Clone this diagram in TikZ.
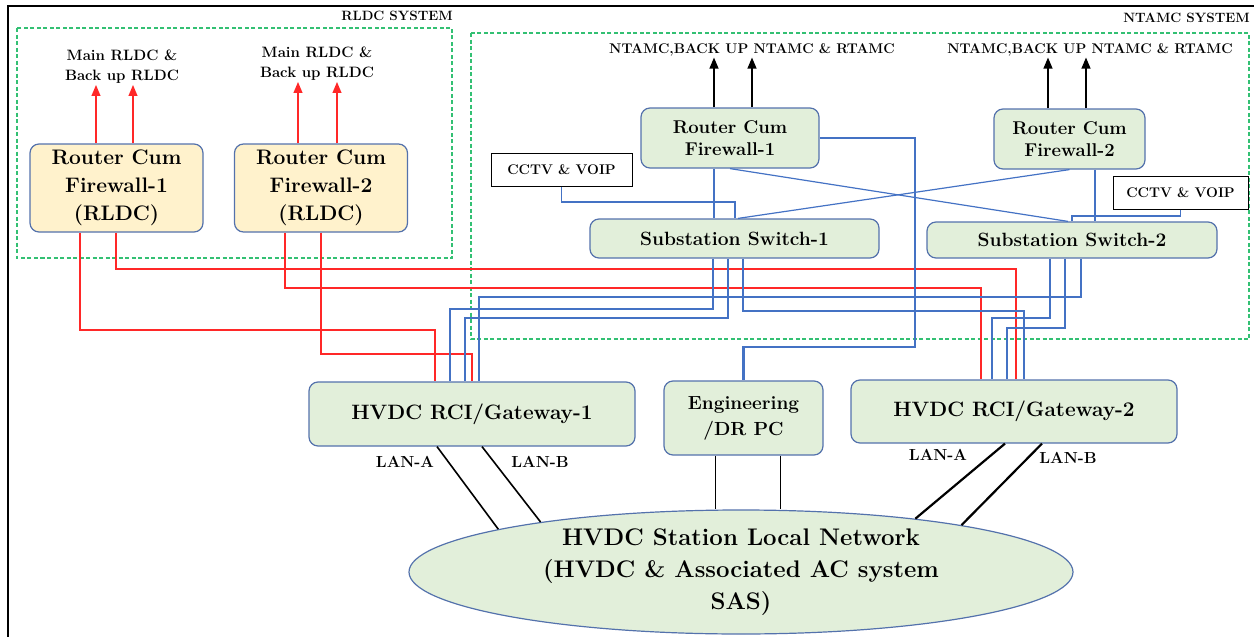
\documentclass[tikz,border=0pt]{standalone}
\usepackage{tikz}
\usetikzlibrary{arrows, positioning, shapes.geometric}

\definecolor{boxfill}{RGB}{226,239,218}
\definecolor{boxline}{RGB}{84,114,172}
\definecolor{rldcfill}{RGB}{255,242,204}
\definecolor{netblue}{RGB}{68,114,196}
\definecolor{netred}{RGB}{255,40,40}
\definecolor{sysgreen}{RGB}{0,176,80}

\begin{document}
\begin{tikzpicture}[x=1pt, y=-1pt, >=triangle 45, semithick]
    \tikzstyle{gbox}=[rectangle, rounded corners=9pt, draw=boxline, fill=boxfill, line width=1.2pt, align=center, inner sep=0pt, text=black]
    \tikzstyle{ybox}=[gbox, fill=rldcfill, minimum width=173pt, minimum height=88pt, font=\bfseries\fontsize{21}{28}\selectfont]
    \tikzstyle{wbox}=[rectangle, draw=black, fill=white, line width=1pt, minimum width=138pt, minimum height=33pt, inner sep=0pt, font=\bfseries\fontsize{14}{16}\selectfont]
    \tikzstyle{tlabel}=[align=center, inner sep=1pt, font=\bfseries\fontsize{15}{20}\selectfont]
    \tikzstyle{nlabel}=[inner sep=1pt, font=\bfseries\fontsize{14}{16}\selectfont]
    \tikzstyle{syslabel}=[inner sep=0pt, font=\bfseries\fontsize{13.5}{16}\selectfont]
    \tikzstyle{lanlabel}=[inner sep=0pt, font=\bfseries\fontsize{16}{18}\selectfont]
    \tikzstyle{sysline}=[draw=sysgreen!80, line width=1.3pt, dash pattern=on 4pt off 2.5pt]
    \tikzstyle{rline}=[draw=netred, line width=1.5pt]
    \tikzstyle{bline}=[draw=netblue, line width=1.2pt]
    \tikzstyle{tbline}=[draw=netblue, line width=2.4pt]
    \tikzstyle{lanline}=[draw=black, line width=1.6pt]

\useasboundingbox (0,0) rectangle (1254,637);
\draw[line width=2.4pt] (8,637) -- (8,6) -- (1254,6);

% system areas
\draw[sysline] (17,28) rectangle (452,258);
\draw[sysline] (471,33) rectangle (1249,339);
\node[syslabel, anchor=east] (rsys) at (453,16) {RLDC SYSTEM};
\node[syslabel, anchor=east] (nsys) at (1250,18) {NTAMC SYSTEM};

% RLDC routers
\node[ybox]         (rf1) at (116.5,188)     {Router Cum\\Firewall-1\\(RLDC)};
\node[ybox]         (rf2) at (321,188)       {Router Cum\\Firewall-2\\(RLDC)};
\node[tlabel]       (ml1) at (122,67)        {Main RLDC \&\\Back up RLDC};
\node[tlabel]       (ml2) at (317,64)        {Main RLDC \&\\Back up RLDC};

% NTAMC side
\node[gbox, minimum width=178pt, minimum height=60pt, font=\bfseries\fontsize{18.5}{22}\selectfont] (nf1) at (730,138)    {Router Cum\\Firewall-1};
\node[gbox, minimum width=151pt, minimum height=60pt, font=\bfseries\fontsize{18.5}{22}\selectfont] (nf2) at (1069.5,139) {Router Cum\\Firewall-2};
\node[nlabel]       (nl1) at (752,50)        {NTAMC,BACK UP NTAMC \& RTAMC};
\node[nlabel]       (nl2) at (1090,50)       {NTAMC,BACK UP NTAMC \& RTAMC};
\node[wbox, minimum width=141pt] (cv1) at (561.5,169.5) {CCTV \& VOIP};
\node[wbox, minimum width=135pt] (cv2) at (1180.5,192.5) {CCTV \& VOIP};
\node[gbox, minimum width=289pt, minimum height=39pt, font=\bfseries\fontsize{19.2}{22}\selectfont] (sw1) at (734.5,238.5) {Substation Switch-1};
\node[gbox, minimum width=290pt, minimum height=36pt, font=\bfseries\fontsize{19.2}{22}\selectfont] (sw2) at (1072,240)    {Substation Switch-2};

% station level
\node[gbox, minimum width=326pt, minimum height=64pt, font=\bfseries\fontsize{20.8}{24}\selectfont] (gw1) at (472,414)    {HVDC RCI/Gateway-1};
\node[gbox, minimum width=326pt, minimum height=63pt, font=\bfseries\fontsize{20.8}{24}\selectfont] (gw2) at (1014,411.5) {HVDC RCI/Gateway-2};
\node[gbox, minimum width=159pt, minimum height=74pt, font=\bfseries\fontsize{19}{26}\selectfont] (eng) at (743.5,418)   {Engineering\\/DR PC};
\node[ellipse, draw=boxline, fill=boxfill, line width=1.2pt, minimum width=664pt, minimum height=124pt, inner sep=0pt, align=center, font=\bfseries\fontsize{24}{32}\selectfont] (lan) at (741,572) {HVDC Station Local Network\\(HVDC \& Associated AC system\\SAS)};
\node[lanlabel]     (la1) at (405,462)       {LAN-A};
\node[lanlabel]     (lb1) at (540,462)       {LAN-B};
\node[lanlabel]     (la2) at (938,455)       {LAN-A};
\node[lanlabel]     (lb2) at (1068,458)      {LAN-B};

% uplinks
\draw[rline, ->] (rf1.north -| 96,0)  -- (ml1.south -| 96,0);
\draw[rline, ->] (rf1.north -| 133,0) -- (ml1.south -| 133,0);
\draw[rline, ->] (rf2.north -| 298,0) -- (ml2.south -| 298,0);
\draw[rline, ->] (rf2.north -| 337,0) -- (ml2.south -| 337,0);
\draw[lanline, ->] (nf1.north -| 714,0)  -- (nl1.south -| 714,0);
\draw[lanline, ->] (nf1.north -| 752,0)  -- (nl1.south -| 752,0);
\draw[lanline, ->] (nf2.north -| 1048,0) -- (nl2.south -| 1048,0);
\draw[lanline, ->] (nf2.north -| 1086,0) -- (nl2.south -| 1086,0);

% NTAMC routers to switches
\draw[bline] (cv1.south) |- (735,202) -- (sw1.north -| 735,0);
\draw[bline] (nf1.south -| 714,0) -- (sw1.north -| 714,0);
\draw[bline] (nf1.south) -- (sw2.north -| 1068,0);
\draw[bline] (nf2.south) -- (sw1.north -| 738,0);
\draw[bline] (nf2.south -| 1095,0) -- (sw2.north -| 1095,0);
\draw[bline] (cv2.south) |- (1072,216) -- (sw2.north -| 1072,0);

% RLDC routers to gateways
\draw[rline] (rf1.south -| 80,0)  |- (435,330) -- (gw1.north -| 435,0);
\draw[rline] (rf1.south -| 116,0) |- (1016,269) -- (gw2.north -| 1016,0);
\draw[rline] (rf2.south -| 285,0) |- (981,288) -- (gw2.north -| 981,0);
\draw[rline] (rf2.south -| 321,0) |- (472,354) -- (gw1.north -| 472,0);

% switches to gateways
\draw[bline] (sw1.south -| 713,0)  |- (450,309) -- (gw1.north -| 450,0);
\draw[bline] (sw1.south -| 728,0)  |- (465,318) -- (gw1.north -| 465,0);
\draw[bline] (sw1.south -| 743,0)  |- (1024,311) -- (gw2.north -| 1024,0);
\draw[bline] (sw2.south -| 1081,0) |- (479,297) -- (gw1.north -| 479,0);
\draw[bline] (sw2.south -| 1050,0) |- (992,318) -- (gw2.north -| 992,0);
\draw[bline] (sw2.south -| 1065,0) |- (1007,328) -- (gw2.north -| 1007,0);

% engineering PC
\draw[tbline] (nf1.east) -| (915,347) -| (eng.north);

% local network
\draw[lanline] (gw1.south -| 437,0)  -- (lan.170);
\draw[lanline] (gw1.south -| 482,0)  -- (lan.166);
\draw[lanline, line width=2.2pt] (gw2.south -| 1005,0) -- (lan.17);
\draw[lanline, line width=2.2pt] (gw2.south -| 1042,0) -- (lan.12);
\draw[thin] (eng.south -| 715,0) -- (715,0 |- lan.north);
\draw[thin] (eng.south -| 780,0) -- (780,0 |- lan.north);
\end{tikzpicture}
\end{document}
